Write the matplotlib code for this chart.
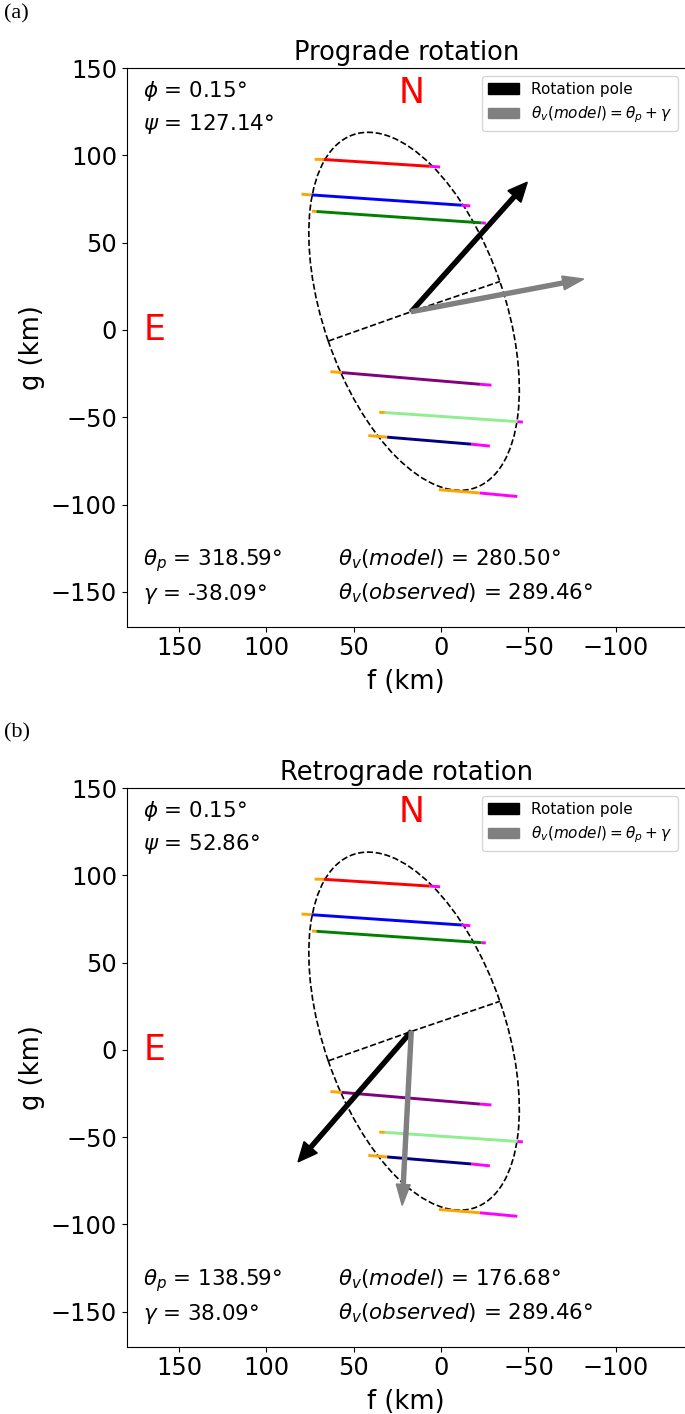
import matplotlib
matplotlib.use("Agg")
import matplotlib.pyplot as plt
from matplotlib.patches import Ellipse, Patch

# ---------------- data (km) ----------------
chord_colors = ["red", "blue", "green", "purple", "lightgreen", "navy", "orange"]
# visible segments: orange p0->p1, main p1->p2, magenta p2->p3
chord_f0 = [72.4, 79.9, 73.9, 63.4, 35.4, 41.7, 1.3]
chord_g0 = [97.8, 77.8, 68.1, -23.9, -47.2, -60.5, -91.5]
chord_f1 = [67.3, 74.2, 71.4, 56.9, 32.2, 30.9, -22.2]
chord_g1 = [97.7, 77.4, 67.9, -24.4, -47.3, -61.4, -93.4]
chord_f2 = [6.6, -11.8, -23.1, -22.2, -43.6, -17.1, -22.2]
chord_g2 = [93.8, 71.5, 61.4, -31.1, -52.5, -65.4, -93.4]
chord_f3 = [0.6, -16.7, -25.6, -28.8, -46.8, -27.9, -43.6]
chord_g3 = [93.4, 71.1, 61.2, -31.6, -52.8, -66.5, -95.4]

ell_center = (15.5, 10.7)
ell_width = 214.0    # major axis (km)
ell_height = 104.0   # minor axis (km)
ell_angle = 71.0     # deg

axis_f = [64.5, 17.1, -33.7]
axis_g = [-6.3, 10.5, 27.8]
origin = (17.1, 10.5)

panels = [
    dict(tag="(a)", title="Prograde rotation", phi="0.15", psi="127.14",
         thp="318.59", gam="-38.09", thv_model="280.50", thv_obs="289.46",
         pole_tip=(-49.3, 84.7), vel_tip=(-81.6, 29.2)),
    dict(tag="(b)", title="Retrograde rotation", phi="0.15", psi="52.86",
         thp="138.59", gam="38.09", thv_model="176.68", thv_obs="289.46",
         pole_tip=(81.9, -64.2), vel_tip=(22.3, -89.1)),
]

xticks = [150, 100, 50, 0, -50, -100]
yticks = [150, 100, 50, 0, -50, -100, -150]

# ---------------- figure ----------------
fig = plt.figure(figsize=(6.85, 14.14), dpi=100)
W, H = 685.0, 1414.0
ax_rects = [
    [126.7 / W, 1 - 626.7 / H, 559 / W, 558.5 / H],
    [126.7 / W, 1 - 1346.5 / H, 559 / W, 558.5 / H],
]
tag_y = [14 / H, 733 / H]
TXT = 15.4

for p, rect, ty in zip(panels, ax_rects, tag_y):
    ax = fig.add_axes(rect)
    ax.set_xlim(180, -140)
    ax.set_ylim(-170, 150)

    # chords
    for c, f0, g0, f1, g1, f2, g2, f3, g3 in zip(chord_colors, chord_f0, chord_g0,
                                                   chord_f1, chord_g1, chord_f2, chord_g2,
                                                   chord_f3, chord_g3):
        ax.plot([f0, f1], [g0, g1], color="orange", lw=2.1, solid_capstyle="butt")
        ax.plot([f2, f3], [g2, g3], color="magenta", lw=2.1, solid_capstyle="butt")
        if (f1, g1) != (f2, g2):
            ax.plot([f1, f2], [g1, g2], color=c, lw=2.1, solid_capstyle="butt")

    # ellipse and minor axis
    ax.add_patch(Ellipse(ell_center, ell_width, ell_height, angle=ell_angle,
                         fill=False, ls="--", lw=1.2, color="black"))
    ax.plot(axis_f, axis_g, ls="--", lw=1.2, color="black")

    # arrows
    ax.arrow(origin[0], origin[1], p["pole_tip"][0] - origin[0], p["pole_tip"][1] - origin[1],
             width=2.3, head_width=10.0, head_length=11.0, length_includes_head=True,
             color="black", zorder=5)
    ax.arrow(origin[0], origin[1], p["vel_tip"][0] - origin[0], p["vel_tip"][1] - origin[1],
             width=2.3, head_width=8.0, head_length=12.0, length_includes_head=True,
             color="gray", zorder=5)

    # texts
    ax.text(0.029, 0.948, r"$\phi$ = " + p["phi"] + "°", transform=ax.transAxes,
            fontsize=TXT, va="baseline", ha="left")
    ax.text(0.029, 0.889, r"$\psi$ = " + p["psi"] + "°", transform=ax.transAxes,
            fontsize=TXT, va="baseline", ha="left")
    ax.text(0.029, 0.110, r"$\theta_p$ = " + p["thp"] + "°", transform=ax.transAxes,
            fontsize=TXT, va="baseline", ha="left")
    ax.text(0.029, 0.048, r"$\gamma$ = " + p["gam"] + "°", transform=ax.transAxes,
            fontsize=TXT, va="baseline", ha="left")
    ax.text(0.378, 0.110, r"$\theta_v(model)$ = " + p["thv_model"] + "°",
            transform=ax.transAxes, fontsize=TXT, va="baseline", ha="left")
    ax.text(0.378, 0.048, r"$\theta_v(observed)$ = " + p["thv_obs"] + "°",
            transform=ax.transAxes, fontsize=TXT, va="baseline", ha="left")
    ax.text(17, 136, "N", color="red", fontsize=25, ha="center", va="center")
    ax.text(164, 0, "E", color="red", fontsize=25, ha="center", va="center")

    handles = [Patch(color="black", label="Rotation pole"),
               Patch(color="gray", label=r"$\theta_v(model) = \theta_p + \gamma$")]
    ax.legend(handles=handles, loc="upper right", fontsize=11)

    ax.set_title(p["title"], fontsize=18.5)
    ax.set_xlabel("f (km)", fontsize=18.5, labelpad=6)
    ax.set_ylabel("g (km)", fontsize=18.5)
    ax.set_xticks(xticks)
    ax.set_yticks(yticks)
    ax.tick_params(labelsize=17.3)

    fig.text(4 / W, 1 - ty, p["tag"], fontsize=16, family="Liberation Serif",
             ha="left", va="center")

fig.savefig("out.png", dpi=100)
